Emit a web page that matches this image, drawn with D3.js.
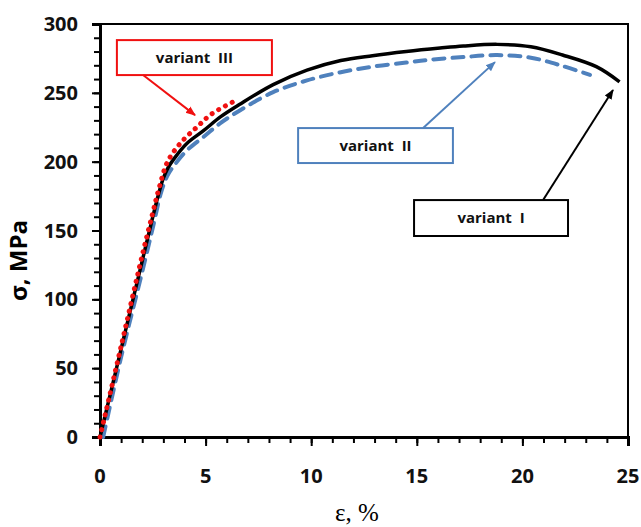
<!DOCTYPE html>
<html>
<head>
<meta charset="utf-8">
<script src="https://cdn.jsdelivr.net/npm/d3@7"></script>
<style>
  body { margin: 0; background: #fff; }
  .tick-label { font-family: "Open Sans", sans-serif; font-weight: 700; font-size: 20px; fill: #111; }
  .note { font-family: "Open Sans", sans-serif; font-weight: 700; font-size: 15px; fill: #111; }
</style>
</head>
<body>
<div id="chart"></div>
<script>
// strain, % / stress, MPa
const strainI  = [0, 1, 2, 2.5, 2.8, 3.0, 3.2, 3.5, 4.1, 4.9, 5.7, 6.6, 8.2, 9.8, 11.4, 12.9, 14.5, 16.1, 17.2, 18.8, 20.4, 21.9, 23.5, 24.6]
const stressI  = [0, 64, 128, 160, 178, 188, 195, 202, 213, 222.5, 232.5, 241.5, 256, 266.5, 273.5, 277, 280, 282.5, 284, 285.2, 283.5, 277.5, 269, 258]

const strainII = [0.15, 1, 2, 2.5, 2.9, 3.2, 3.5, 4.1, 4.9, 5.7, 6.6, 8.2, 9.8, 11.4, 12.9, 14.5, 15.6, 17.2, 18.8, 20.4, 21.9, 23.2]
const stressII = [0, 58, 120, 152, 178, 190, 197, 208, 218, 228, 237, 250.5, 259, 265, 269, 272, 274, 276, 277.4, 275.5, 269.5, 263]

const strainIII = [0, 1, 2, 2.5, 2.8, 3.2, 3.84, 4.58, 5.28, 6.47]
const stressIII = [0, 66, 132, 163, 181, 200, 214, 225, 234.6, 244.7]

const xTicks = [0, 5, 10, 15, 20, 25]
const yTicks = [0, 50, 100, 150, 200, 250, 300]

// boxes [x0, x1, yTop, yBottom] and arrows [from, to] in data units
const notes = [
  {label: 'variant  III', color: '#f01010', box: [0.8, 8.14, 288.3, 262.9], arrow: [[2.04, 262.9], [4.5, 233.8]]},
  {label: 'variant  II', color: '#4f81bd', box: [9.38, 16.71, 224.4, 199], arrow: [[15.3, 224.4], [18.7, 272.3]]},
  {label: 'variant  I', color: '#000', box: [14.87, 22.16, 172.1, 146], arrow: [[20.98, 172.1], [24.29, 252]]}
]

const width = 641, height = 527
const margin = {left: 100, right: 13, top: 24, bottom: 90}

let svg = d3.select('#chart').append('svg')
.attr('width', width)
.attr('height', height)

svg.append('rect').attr('width', width).attr('height', height).attr('fill', '#fff')

let xScale = d3.scaleLinear()
.domain([0, 25])
.range([margin.left, width - margin.right])

let yScale = d3.scaleLinear()
.domain([0, 300])
.range([height - margin.bottom, margin.top])

// frame
svg.append('rect')
.attr('x', xScale(0))
.attr('y', yScale(300))
.attr('width', xScale(25) - xScale(0))
.attr('height', yScale(0) - yScale(300))
.attr('fill', 'none')
.attr('stroke', '#000')
.attr('stroke-width', 2)

// minor + major ticks
let xaxis = svg.append('g')
.attr('transform', `translate(0,${yScale(0)})`)
xaxis.call(d3.axisBottom(xScale).tickValues(d3.range(0, 26, 1)).tickSize(6).tickFormat(''))
xaxis.append('g').call(d3.axisBottom(xScale).tickValues(xTicks).tickSize(9).tickFormat(''))
xaxis.selectAll('.domain').attr('stroke-width', 3)
xaxis.selectAll('.tick line').attr('stroke-width', 2)

let yaxis = svg.append('g')
.attr('transform', `translate(${xScale(0)},0)`)
yaxis.call(d3.axisLeft(yScale).tickValues(d3.range(0, 301, 10)).tickSize(6).tickFormat(''))
yaxis.append('g').call(d3.axisLeft(yScale).tickValues(yTicks).tickSize(8).tickFormat(''))
yaxis.selectAll('.domain').attr('stroke-width', 3)
yaxis.selectAll('.tick line').attr('stroke-width', 2)

svg.append('g').selectAll('text')
.data(xTicks)
.join('text')
.attr('class', 'tick-label')
.attr('x', d => xScale(d))
.attr('y', yScale(0) + 46)
.attr('text-anchor', 'middle')
.text(d => d)

svg.append('g').selectAll('text')
.data(yTicks)
.join('text')
.attr('class', 'tick-label')
.attr('x', xScale(0) - 22)
.attr('y', d => yScale(d) + 7)
.attr('text-anchor', 'end')
.text(d => d)

svg.append('text')
.attr('transform', `translate(27,${(yScale(0) + yScale(300)) / 2 + 30}) rotate(-90)`)
.attr('text-anchor', 'middle')
.style('font-family', '"Open Sans", sans-serif')
.style('font-weight', 700)
.style('font-size', '24px')
.text('σ, MPa')

svg.append('text')
.attr('x', 357)
.attr('y', 521)
.attr('text-anchor', 'middle')
.style('font-family', '"Liberation Serif", serif')
.style('font-size', '25px')
.text('ε, %')

const line = d3.line()
.curve(d3.curveCatmullRom.alpha(0.5))
.x(d => xScale(d[0]))
.y(d => yScale(d[1]))

let lines = svg.append('g')

lines.append('path')
.datum(d3.zip(strainII, stressII))
.attr('d', line)
.attr('fill', 'none')
.attr('stroke', '#4f81bd')
.attr('stroke-width', 4)
.attr('stroke-linecap', 'round')
.attr('stroke-dasharray', '11 8')

lines.append('path')
.datum(d3.zip(strainI, stressI))
.attr('d', line)
.attr('fill', 'none')
.attr('stroke', '#000')
.attr('stroke-width', 3.5)

lines.append('path')
.datum(d3.zip(strainIII, stressIII))
.attr('d', line)
.attr('fill', 'none')
.attr('stroke', '#f01010')
.attr('stroke-width', 5)
.attr('stroke-linecap', 'round')
.attr('stroke-dasharray', '0.1 7.5')

// annotations
let defs = svg.append('defs')
notes.forEach((n, i) => {
  defs.append('marker')
  .attr('id', 'head' + i)
  .attr('viewBox', '0 0 10 10')
  .attr('refX', 9).attr('refY', 5)
  .attr('markerWidth', 5).attr('markerHeight', 5)
  .attr('markerUnits', 'strokeWidth')
  .attr('orient', 'auto')
  .append('path')
  .attr('d', 'M0,1 L10,5 L0,9 Z')
  .attr('fill', n.color)
})

let labels = svg.append('g')
notes.forEach((n, i) => {
  let [x0, x1, yt, yb] = n.box
  labels.append('rect')
  .attr('x', xScale(x0))
  .attr('y', yScale(yt))
  .attr('width', xScale(x1) - xScale(x0))
  .attr('height', yScale(yb) - yScale(yt))
  .attr('fill', '#fff')
  .attr('stroke', n.color)
  .attr('stroke-width', 2)

  labels.append('text')
  .attr('class', 'note')
  .attr('x', (xScale(x0) + xScale(x1)) / 2)
  .attr('y', (yScale(yt) + yScale(yb)) / 2 + 5)
  .attr('text-anchor', 'middle')
  .style('white-space', 'pre')
  .text(n.label)

  labels.append('line')
  .attr('x1', xScale(n.arrow[0][0]))
  .attr('y1', yScale(n.arrow[0][1]))
  .attr('x2', xScale(n.arrow[1][0]))
  .attr('y2', yScale(n.arrow[1][1]))
  .attr('stroke', n.color)
  .attr('stroke-width', 2)
  .attr('marker-end', `url(#head${i})`)
})
</script>
</body>
</html>
